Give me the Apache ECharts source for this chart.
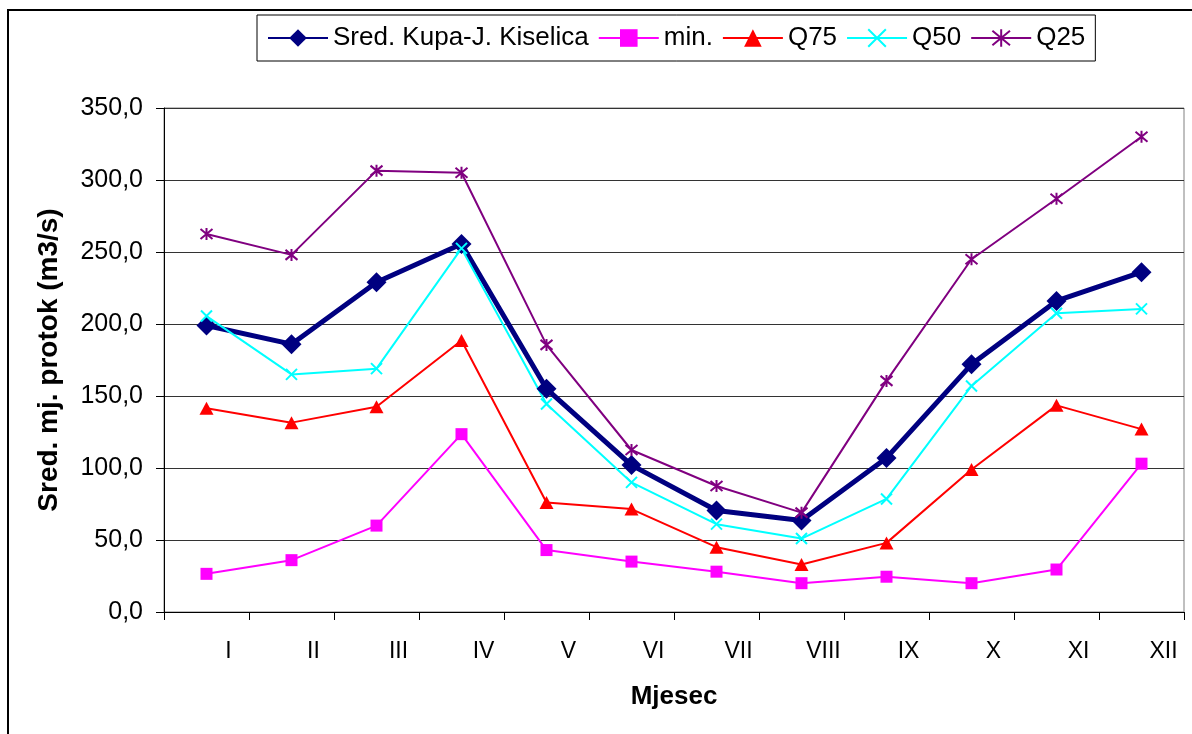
<!DOCTYPE html>
<html>
<head>
<meta charset="utf-8">
<title>Sred. mj. protok</title>
<script src="https://cdn.jsdelivr.net/npm/echarts@6/dist/echarts.min.js"></script>
<style>
  html, body { margin: 0; padding: 0; background: #fff; }
  #chart { width: 1192px; height: 734px; }
</style>
</head>
<body>
<div id="chart"></div>
<script>
// Months (Roman numerals)
const months = ['I', 'II', 'III', 'IV', 'V', 'VI', 'VII', 'VIII', 'IX', 'X', 'XI', 'XII'];

// Monthly discharge values (m3/s)
const sredKupa = [199, 186, 229, 255.5, 155, 102, 70.5, 63.5, 107, 172, 216, 236];
const minVals  = [26.5, 36, 60, 123.5, 43, 35, 28, 20, 24.5, 20, 29.5, 103];
const q75Vals  = [141.5, 131.5, 142.5, 188.5, 76, 71.5, 45, 33, 48, 99, 143.5, 127];
const q50Vals  = [205.5, 165, 169, 252.5, 144.5, 90, 61, 51, 78.5, 157, 207.5, 210.5];
const q25Vals  = [262.5, 248, 306.5, 305, 185.5, 112.5, 87.5, 69, 160.5, 245, 287, 330];

// Y axis range
const yMin = 0, yMax = 350, yStep = 50;

const FONT = '"Liberation Sans", Arial, sans-serif';
const crossPath = 'path://M0,0L10,10M10,0L0,10';
const starPath = 'path://M0,0L10,10M10,0L0,10M5,-1L5,11';

const chart = echarts.init(document.getElementById('chart'), null, { renderer: 'canvas' });

function lineSeries(name, data, color, width, symbol, size, extraItem) {
  return {
    name: name,
    type: 'line',
    data: data,
    symbol: symbol,
    symbolSize: size,
    showAllSymbol: true,
    lineStyle: { color: color, width: width },
    itemStyle: Object.assign({ color: color }, extraItem || {}),
    emphasis: { disabled: true },
    animation: false
  };
}

chart.setOption({
  animation: false,
  backgroundColor: '#fff',
  textStyle: { fontFamily: FONT, color: '#000' },
  graphic: [{
    type: 'rect',
    shape: { x: 8, y: 10, width: 1400, height: 1000 },
    style: { fill: null, stroke: '#000', lineWidth: 2 },
    silent: true,
    z: -10
  }],
  legend: {
    left: 257,
    top: 15,
    padding: [8, 10, 8, 10],
    itemGap: 9,
    itemWidth: 60,
    itemHeight: 22,
    borderColor: '#000',
    borderWidth: 1,
    backgroundColor: '#fff',
    textStyle: { fontFamily: FONT, fontSize: 26, color: '#000', lineHeight: 30 },
    data: ['Sred. Kupa-J. Kiselica', 'min.', 'Q75', 'Q50', 'Q25']
  },
  grid: {
    left: 164,
    top: 108,
    width: 1020,
    height: 504,
    show: true,
    borderColor: '#808080',
    borderWidth: 1,
    backgroundColor: 'transparent'
  },
  xAxis: {
    type: 'category',
    data: months,
    boundaryGap: true,
    name: 'Mjesec',
    nameLocation: 'middle',
    nameGap: 72,
    nameTextStyle: { fontFamily: FONT, fontSize: 26, fontWeight: 'bold', color: '#000' },
    axisLine: { show: true, lineStyle: { color: '#000', width: 1 } },
    axisTick: { show: true, length: 8, alignWithLabel: false, lineStyle: { color: '#000' } },
    axisLabel: {
      fontFamily: FONT, fontSize: 23, color: '#000', margin: 28,
      padding: [0, 0, 0, 44], interval: 0
    },
    splitLine: { show: false }
  },
  yAxis: {
    type: 'value',
    min: yMin,
    max: yMax,
    interval: yStep,
    name: 'Sred. mj. protok (m3/s)',
    nameLocation: 'middle',
    nameGap: 101,
    nameRotate: 90,
    nameTextStyle: { fontFamily: FONT, fontSize: 28, fontWeight: 'bold', color: '#000' },
    axisLine: { show: true, lineStyle: { color: '#000', width: 1 } },
    axisTick: { show: true, length: 8, lineStyle: { color: '#000' } },
    axisLabel: {
      fontFamily: FONT, fontSize: 25, color: '#000', margin: 21,
      formatter: v => v.toFixed(1).replace('.', ',')
    },
    splitLine: { show: true, lineStyle: { color: '#333', width: 1 } }
  },
  series: [
    lineSeries('Sred. Kupa-J. Kiselica', sredKupa, '#000080', 5, 'diamond', 20),
    lineSeries('min.', minVals, '#FF00FF', 2, 'rect', 12),
    lineSeries('Q75', q75Vals, '#FF0000', 2, 'triangle', [14, 13]),
    lineSeries('Q50', q50Vals, '#00FFFF', 2, crossPath, 11,
      { borderColor: '#00FFFF', borderWidth: 2 }),
    lineSeries('Q25', q25Vals, '#800080', 2, starPath, 12,
      { borderColor: '#800080', borderWidth: 2 })
  ]
});
</script>
</body>
</html>
